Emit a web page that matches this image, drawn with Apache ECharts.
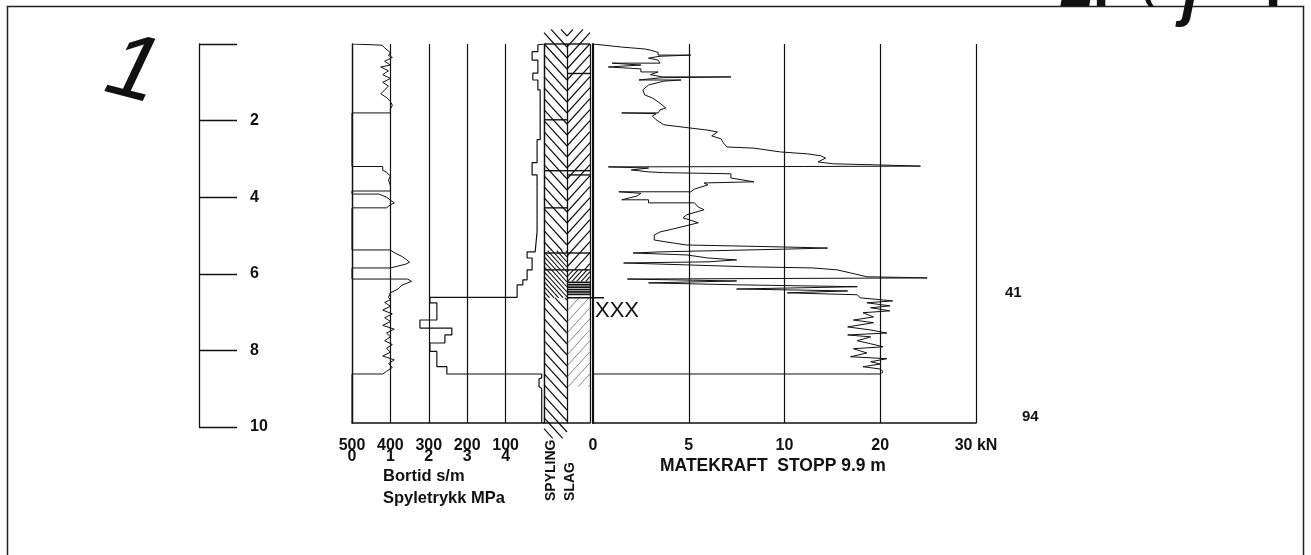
<!DOCTYPE html>
<html><head><meta charset="utf-8">
<script src="https://cdn.jsdelivr.net/npm/echarts@6/dist/echarts.min.js"></script>
<style>html,body{margin:0;padding:0;background:#fff}#c{width:1311px;height:555px}</style>
</head><body><div id="c"></div>
<script>
// ---------- tick labels ----------
const depthAxisLabels = ['', '2', '4', '6', '8', '10'];
const bortidTickLabels = ['500', '400', '300', '200', '100'];
const pressTickLabels = ['0', '1', '2', '3', '4'];
const forceTickLabels = ['0', '5', '10', '20', '30 kN'];

// ---------- Bortid (s/m) vs depth (m) ----------
const btDepth = [0,0.02,0.2,0.2,0.42,0.42,0.76,0.76,0.94,0.94,1.2,1.2,2.5,2.5,3.1,3.1,3.42,3.42,4.9,4.9,5.43,5.43,5.59,5.59,5.9,5.9,6.16,6.16,6.29,6.29,6.62,6.62,6.76,6.76,7.21,7.21,7.42,7.42,7.6,7.6,7.81,7.81,8.03,8.03,8.43,8.43,8.62,8.62,8.72,8.75,8.95,9.0,9.9];
const btTime  = [0,16,16,31,31,16,16,29,29,16,16,10,10,18,18,31,31,18,18,23,23,44,44,31,31,44,44,55,55,70,70,297,297,279,279,323,323,240,240,258,258,297,297,279,279,253,253,6,6,13,13,6,6];

// ---------- Spyletrykk (MPa) vs depth (m) ----------
const spDepth = [0,0.03,0.03,0.10,0.23,0.30,0.35,0.45,0.55,0.60,0.70,0.80,0.90,1.00,1.10,1.20,1.30,1.40,1.50,1.60,1.70,1.80,1.80,3.20,3.20,3.30,3.35,3.45,3.55,3.70,3.84,3.84,3.92,3.92,4.00,4.08,4.15,4.20,4.28,4.28,5.38,5.38,5.45,5.55,5.62,5.70,5.75,5.85,5.85,6.14,6.14,6.20,6.30,6.40,6.50,6.62,6.68,6.75,6.85,6.95,7.05,7.15,7.25,7.35,7.45,7.55,7.65,7.75,7.85,7.95,8.05,8.15,8.25,8.35,8.45,8.55,8.62,8.62,9.90];
const spPress = [0,0,0.78,0.85,1.0,0.95,1.05,0.85,1.0,0.75,0.95,0.8,1.0,0.8,0.95,0.85,0.75,0.9,1.0,1.05,1.0,1.0,0,0,0.8,0.8,0.9,1.0,0.95,1.0,1.0,0,0,0.7,0.9,1.0,1.1,1.0,0.9,0,0,1.0,1.1,1.3,1.4,1.5,1.4,1.0,0,0,1.45,1.55,1.3,1.2,1.0,0.95,1.0,0.85,1.0,0.8,1.05,0.85,1.0,0.8,1.1,0.9,1.0,0.85,1.05,0.9,1.0,0.8,1.1,0.95,1.05,0.9,0.8,0,0];

// ---------- Matekraft (kN) vs depth (m) ----------
const mkDepth = [0.00,0.03,0.08,0.13,0.16,0.22,0.29,0.29,0.32,0.37,0.42,0.50,0.50,0.55,0.60,0.60,0.65,0.73,0.73,0.80,0.86,0.86,0.88,0.94,0.94,0.97,1.07,1.20,1.33,1.41,1.51,1.67,1.72,1.80,1.80,1.82,1.88,1.98,2.11,2.19,2.25,2.30,2.40,2.48,2.58,2.69,2.72,2.82,2.87,2.92,2.98,3.08,3.13,3.16,3.19,3.20,3.21,3.24,3.29,3.34,3.36,3.39,3.50,3.60,3.63,3.68,3.79,3.86,3.86,3.90,3.97,4.07,4.07,4.15,4.15,4.26,4.33,4.46,4.54,4.67,4.78,4.83,4.91,4.99,5.12,5.20,5.25,5.30,5.33,5.36,5.43,5.46,5.51,5.59,5.64,5.69,5.72,5.77,5.82,5.85,5.90,5.98,6.08,6.11,6.14,6.19,6.24,6.29,6.34,6.40,6.45,6.50,6.55,6.63,6.71,6.76,6.84,6.89,6.97,7.02,7.13,7.21,7.28,7.39,7.47,7.55,7.60,7.65,7.75,7.83,7.91,7.96,8.07,8.17,8.22,8.30,8.36,8.43,8.49,8.56,8.62,8.62,9.90];
const mkForce = [0.0,0.05,1.5,2.7,3.0,3.4,3.4,5.1,3.5,2.9,3.4,3.5,1.0,2.5,2.4,0.8,2.5,2.5,3.4,3.0,3.6,7.2,3.6,2.4,4.6,3.7,2.9,2.6,2.7,3.1,3.4,3.8,3.5,3.4,1.5,3.3,3.1,3.3,3.7,5.0,6.0,6.5,6.2,6.7,6.8,7.0,8.4,9.8,12.4,13.8,14.3,13.5,15.1,20.0,24.2,12.0,0.8,2.9,2.0,2.9,3.7,7.2,7.2,8.4,5.8,6.0,5.3,5.1,1.35,2.5,2.3,1.5,2.9,2.9,5.3,5.5,5.8,4.9,4.7,5.5,4.6,4.2,3.5,3.2,3.2,4.2,4.9,9.8,14.5,9.9,3.5,2.1,4.9,6.0,7.5,6.0,1.6,4.9,8.1,13.0,15.5,16.9,18.6,24.9,1.8,7.5,2.9,7.5,17.6,7.5,16.6,10.3,17.6,17.9,21.3,18.6,21.0,19.0,21.0,18.2,19.3,17.2,19.3,16.6,19.0,20.7,16.6,19.0,17.6,19.0,20.3,17.2,18.6,16.9,20.7,19.0,20.0,18.2,20.0,20.3,20.0,0.0,0.0];

// ---------- Soil column (0 = SPYLING, 1 = SLAG) ----------
const hatchKinds = ['diag', 'dense', 'light', 'horiz', 'stub'];
const hatchCol  = [0, 0, 0, 0, 0, 1, 1, 1, 1, 1];
const hatchTop  = [-0.38, 0, 5.4, 6.63, 9.9, -0.38, 0, 5.9, 6.2, 6.6];
const hatchBot  = [0, 5.4, 6.63, 9.9, 10.3, 0, 5.9, 6.2, 6.6, 8.95];
const hatchKind = ['stub', 'diag', 'dense', 'diag', 'stub', 'stub', 'diag', 'dense', 'horiz', 'light'];
const boundCol   = [0, 0, 0, 0, 0, 0, 1, 1, 1, 1, 1, 1, 1];
const boundDepth = [0, 1.98, 3.31, 4.28, 5.46, 5.9, 0, 0.77, 3.31, 3.42, 5.46, 5.9, 6.63];
const boundLong  = [0, 0, 0, 0, 0, 0, 0, 0, 0, 0, 0, 0, 1];

const INK = '#111';
const FONT = 'Liberation Sans';

function kNtoAxis(v) { return v <= 10 ? v / 5 : 2 + (v - 10) / 10; }

function seg(x1, y1, x2, y2, w, c) {
  return { type: 'line', shape: { x1, y1, x2, y2 }, style: { stroke: c, lineWidth: w }, silent: true };
}

function hatchRender(params, api) {
  const col = api.value(0), top = api.value(1), bot = api.value(2);
  const kind = hatchKinds[api.value(3)];
  const pA = api.coord([col, top]), pB = api.coord([col + 1, bot]);
  const x0 = pA[0], x1 = pB[0];
  const y0 = Math.min(pA[1], pB[1]), y1 = Math.max(pA[1], pB[1]);
  const w = x1 - x0;
  const children = [];
  if (kind === 'horiz') {
    for (let y = y0 + 1; y < y1; y += 2.4) children.push(seg(x0, y, x1, y, 1.7, INK));
    return { type: 'group', children };
  }
  const s = kind === 'dense' ? 5 : 11;
  const lw = kind === 'light' ? 0.7 : (kind === 'dense' ? 1.1 : 1.2);
  const color = kind === 'light' ? '#555' : INK;
  const k = 1.1;
  const divX = col === 0 ? x1 : x0;
  const farX = col === 0 ? x0 : x1;
  const base = api.coord([0, 0])[1] + 3;
  const wk = w * k;
  const n0 = Math.floor((y0 - base) / s) - 1;
  const n1 = Math.ceil((y1 + wk - base) / s) + 1;
  for (let n = n0; n <= n1; n++) {
    const a = base + n * s;
    const tmin = Math.max(0, (a - y1) / wk);
    const tmax = Math.min(1, (a - y0) / wk);
    if (tmax - tmin < 0.02) continue;
    const xa = divX + tmin * (farX - divX), ya = a - tmin * wk;
    const xb = divX + tmax * (farX - divX), yb = a - tmax * wk;
    children.push(seg(xa, ya, xb, yb, lw, color));
  }
  return { type: 'group', children };
}

function boundRender(params, api) {
  const col = api.value(0), d = api.value(1), long = api.value(2);
  const p0 = api.coord([col, d]), p1 = api.coord([col + 1, d]);
  return seg(p0[0], p0[1], p1[0] + (long ? 14 : 0), p1[1], 1.4, INK);
}

const lbl = { color: INK, fontSize: 16, fontWeight: 'bold', fontFamily: FONT };
const gridBase = { containLabel: false, outerBoundsMode: 'none', show: false };
const noZero = (o) => Object.assign({ onZero: false }, o);
function txt(x, y, text, font, extra) {
  return Object.assign({ type: 'text', silent: true, x, y,
    style: { text, font, fill: INK, align: 'left', verticalAlign: 'middle', textAlign: 'left', textVerticalAlign: 'middle' } }, extra || {});
}
function hand(x, y, text, font) {
  return { type: 'text', silent: true, x, y,
    style: { text, font, fill: INK, align: 'center', verticalAlign: 'bottom', textAlign: 'center', textVerticalAlign: 'bottom' } };
}

const option = {
  animation: false,
  backgroundColor: '#fff',
  textStyle: { fontFamily: FONT },
  grid: [
    Object.assign({ left: 100, top: 44, width: 99, height: 383 }, gridBase),
    Object.assign({ left: 352, top: 44, width: 192, height: 379 }, gridBase),
    Object.assign({ left: 544, top: 44, width: 46, height: 379 }, gridBase),
    Object.assign({ left: 593, top: 44, width: 383, height: 379 }, gridBase)
  ],
  xAxis: [
    { gridIndex: 0, type: 'value', min: 0, max: 1, show: false },
    { gridIndex: 1, type: 'value', min: 0, max: 500, interval: 100, inverse: true, position: 'bottom',
      axisLine: noZero({ show: true, lineStyle: { color: INK, width: 1.5 } }), axisTick: { show: false }, splitLine: { show: false },
      axisLabel: Object.assign({ margin: 15, hideOverlap: false, showMinLabel: true, showMaxLabel: true,
        formatter: v => v === 0 ? '' : bortidTickLabels[Math.round((500 - v) / 100)] }, lbl) },
    { gridIndex: 1, type: 'value', min: 0, max: 5, interval: 1, position: 'bottom',
      axisLine: noZero({ show: false }), axisTick: { show: false },
      splitLine: { show: true, lineStyle: { color: INK, width: 1.2 } },
      axisLabel: Object.assign({ margin: 26, hideOverlap: false, showMinLabel: true, showMaxLabel: true,
        formatter: v => v === 5 ? '' : pressTickLabels[Math.round(v)] }, lbl) },
    { gridIndex: 2, type: 'value', min: 0, max: 2, interval: 1, position: 'bottom',
      axisLine: noZero({ show: true, lineStyle: { color: INK, width: 1.5 } }), axisTick: { show: false }, axisLabel: { show: false },
      splitLine: { show: true, lineStyle: { color: INK, width: 1.3 } } },
    { gridIndex: 3, type: 'value', min: 0, max: 4, interval: 1, position: 'bottom',
      axisLine: noZero({ show: true, lineStyle: { color: INK, width: 1.5 } }), axisTick: { show: false },
      splitLine: { show: true, lineStyle: { color: INK, width: 1.2 } },
      axisLabel: Object.assign({ margin: 15, hideOverlap: false, showMinLabel: true, showMaxLabel: true,
        formatter: v => forceTickLabels[Math.round(v)] }, lbl) }
  ],
  yAxis: [
    { gridIndex: 0, type: 'value', min: 0, max: 10, interval: 2, inverse: true, position: 'right',
      axisLine: noZero({ show: true, lineStyle: { color: INK, width: 1.3 } }),
      axisTick: { show: true, inside: false, length: 38, lineStyle: { color: INK, width: 1.3 } },
      splitLine: { show: false },
      axisLabel: Object.assign({ margin: 51, showMinLabel: true, showMaxLabel: true,
        formatter: v => depthAxisLabels[Math.round(v / 2)] }, lbl) },
    { gridIndex: 1, type: 'value', min: 0, max: 9.9, inverse: true, position: 'left',
      axisLine: noZero({ show: true, lineStyle: { color: INK, width: 1.3 } }), axisTick: { show: false },
      axisLabel: { show: false }, splitLine: { show: false } },
    { gridIndex: 2, type: 'value', min: 0, max: 9.9, inverse: true, position: 'left',
      axisLine: noZero({ show: false }), axisTick: { show: false }, axisLabel: { show: false }, splitLine: { show: false } },
    { gridIndex: 3, type: 'value', min: 0, max: 9.9, inverse: true, position: 'left',
      axisLine: noZero({ show: true, lineStyle: { color: INK, width: 2 } }), axisTick: { show: false },
      axisLabel: { show: false }, splitLine: { show: false } }
  ],
  series: [
    { name: 'Bortid', type: 'line', xAxisIndex: 1, yAxisIndex: 1, symbol: 'none', silent: true,
      data: btDepth.map((d, i) => [btTime[i], d]), lineStyle: { color: INK, width: 1.2 } },
    { name: 'Spyletrykk', type: 'line', xAxisIndex: 2, yAxisIndex: 1, symbol: 'none', silent: true,
      data: spDepth.map((d, i) => [spPress[i], d]), lineStyle: { color: INK, width: 1 } },
    { name: 'Hatch', type: 'custom', xAxisIndex: 3, yAxisIndex: 2, clip: false, silent: true,
      renderItem: hatchRender, encode: { x: 0, y: [1, 2] },
      data: hatchTop.map((t, i) => [hatchCol[i], t, hatchBot[i], hatchKinds.indexOf(hatchKind[i])]) },
    { name: 'Grenser', type: 'custom', xAxisIndex: 3, yAxisIndex: 2, clip: false, silent: true,
      renderItem: boundRender, encode: { x: 0, y: 1 },
      data: boundDepth.map((d, i) => [boundCol[i], d, boundLong[i]]) },
    { name: 'Matekraft', type: 'line', xAxisIndex: 4, yAxisIndex: 3, symbol: 'none', silent: true,
      data: mkDepth.map((d, i) => [kNtoAxis(mkForce[i]), d]), lineStyle: { color: INK, width: 1 } }
  ],
  graphic: [
    { type: 'rect', silent: true, shape: { x: 7.5, y: 6.5, width: 1296, height: 620 },
      style: { fill: 'none', stroke: '#222', lineWidth: 1.5 } },
    { type: 'text', silent: true, x: 133, y: 72, rotation: -0.25,
      style: { text: '1', font: 'italic 92px "Liberation Sans"', fill: INK, align: 'center', verticalAlign: 'middle', textAlign: 'center', textVerticalAlign: 'middle' } },
    hand(1078, 19, '2', 'italic bold 60px "Liberation Sans"'),
    hand(1101, 19, '.', 'bold 60px "Liberation Sans"'),
    hand(1150, 8, '(', 'italic 60px "Liberation Sans"'),
    hand(1190, 28, 'j', 'italic bold 60px "Liberation Sans"'),
    hand(1273, 19, '.', 'bold 60px "Liberation Sans"'),
    txt(383, 476, 'Bortid s/m', 'bold 16.5px "Liberation Sans"'),
    txt(383, 498, 'Spyletrykk MPa', 'bold 16.5px "Liberation Sans"'),
    txt(551, 501, 'SPYLING', 'bold 14px "Liberation Sans"', { rotation: Math.PI / 2 }),
    txt(570, 501, 'SLAG', 'bold 14px "Liberation Sans"', { rotation: Math.PI / 2 }),
    txt(660, 466, 'MATEKRAFT  STOPP 9.9 m', 'bold 17.5px "Liberation Sans"'),
    txt(595, 311, 'XXX', '22px "Liberation Sans"'),
    txt(1005, 293, '41', 'bold 15px "Liberation Sans"'),
    txt(1022, 417, '94', 'bold 15px "Liberation Sans"')
  ]
};

const chart = echarts.init(document.getElementById('c'), null, { renderer: 'canvas' });
chart.setOption(option);
</script>
</body></html>
